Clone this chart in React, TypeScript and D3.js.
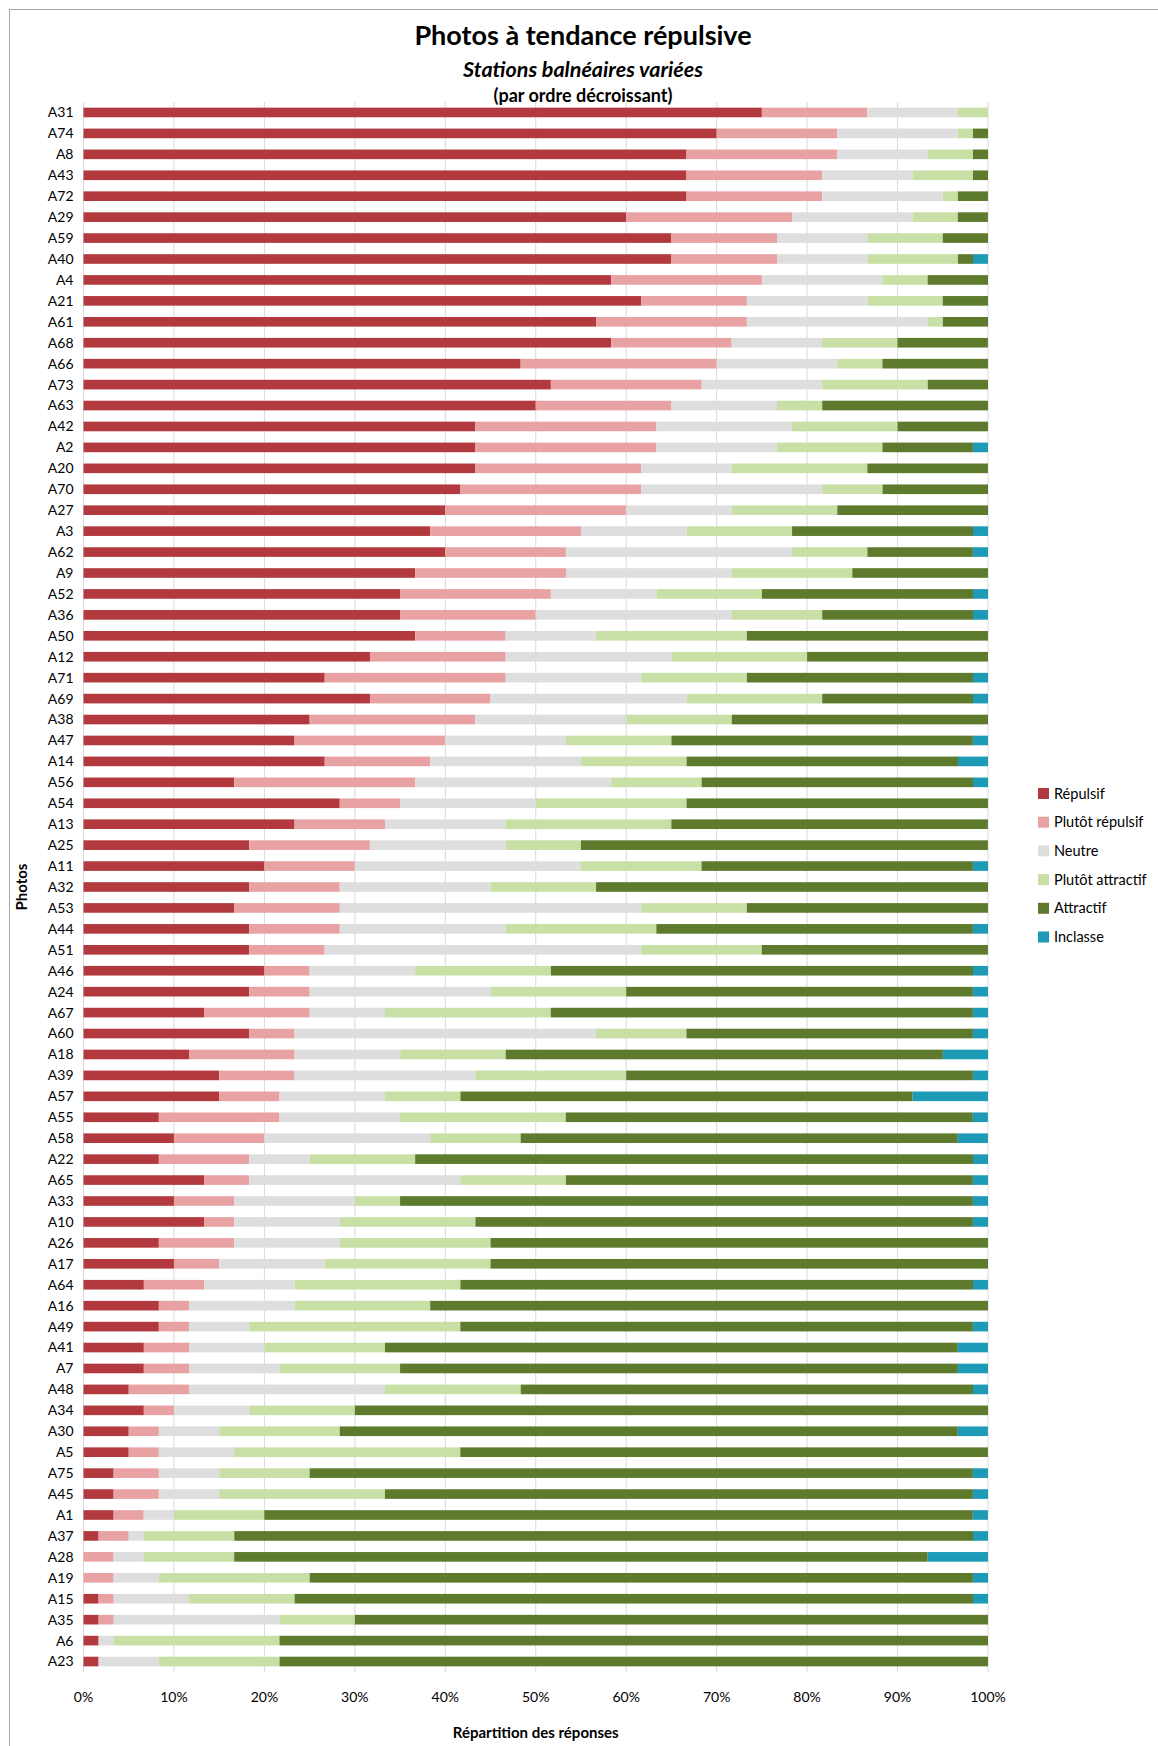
import React from 'react'
import * as d3 from 'd3'

// photo ids, top to bottom (par ordre décroissant)
const categories = [
    'A31', 'A74', 'A8', 'A43', 'A72', 'A29', 'A59', 'A40', 'A4', 'A21',
    'A61', 'A68', 'A66', 'A73', 'A63', 'A42', 'A2', 'A20', 'A70', 'A27',
    'A3', 'A62', 'A9', 'A52', 'A36', 'A50', 'A12', 'A71', 'A69', 'A38',
    'A47', 'A14', 'A56', 'A54', 'A13', 'A25', 'A11', 'A32', 'A53', 'A44',
    'A51', 'A46', 'A24', 'A67', 'A60', 'A18', 'A39', 'A57', 'A55', 'A58',
    'A22', 'A65', 'A33', 'A10', 'A26', 'A17', 'A64', 'A16', 'A49', 'A41',
    'A7', 'A48', 'A34', 'A30', 'A5', 'A75', 'A45', 'A1', 'A37', 'A28',
    'A19', 'A15', 'A35', 'A6', 'A23',
]

// shares of answers, in %
const repulsif = [
    75, 70, 66.67, 66.67, 66.67, 60, 65, 65, 58.33, 61.67,
    56.67, 58.33, 48.33, 51.67, 50, 43.33, 43.33, 43.33, 41.67, 40,
    38.33, 40, 36.67, 35, 35, 36.67, 31.67, 26.67, 31.67, 25,
    23.33, 26.67, 16.67, 28.33, 23.33, 18.33, 20, 18.33, 16.67, 18.33,
    18.33, 20, 18.33, 13.33, 18.33, 11.67, 15, 15, 8.33, 10,
    8.33, 13.33, 10, 13.33, 8.33, 10, 6.67, 8.33, 8.33, 6.67,
    6.67, 5, 6.67, 5, 5, 3.33, 3.33, 3.33, 1.67, 0,
    0, 1.67, 1.67, 1.67, 1.67,
]
const plutotRepulsif = [
    11.67, 13.33, 16.67, 15, 15, 18.33, 11.67, 11.67, 16.67, 11.67,
    16.67, 13.33, 21.67, 16.67, 15, 20, 20, 18.33, 20, 20,
    16.67, 13.33, 16.67, 16.67, 15, 10, 15, 20, 13.33, 18.33,
    16.67, 11.67, 20, 6.67, 10, 13.33, 10, 10, 11.67, 10,
    8.33, 5, 6.67, 11.67, 5, 11.67, 8.33, 6.67, 13.33, 10,
    10, 5, 6.67, 3.33, 8.33, 5, 6.67, 3.33, 3.33, 5,
    5, 6.67, 3.33, 3.33, 3.33, 5, 5, 3.33, 3.33, 3.33,
    3.33, 1.67, 1.67, 0, 0,
]
const neutre = [
    10, 13.33, 10, 10, 13.33, 13.33, 10, 10, 13.33, 13.33,
    20, 10, 13.33, 13.33, 11.67, 15, 13.33, 10, 20, 11.67,
    11.67, 25, 18.33, 11.67, 21.67, 10, 18.33, 15, 21.67, 16.67,
    13.33, 16.67, 21.67, 15, 13.33, 15, 25, 16.67, 33.33, 18.33,
    35, 11.67, 20, 8.33, 33.33, 11.67, 20, 11.67, 13.33, 18.33,
    6.67, 23.33, 13.33, 11.67, 11.67, 11.67, 10, 11.67, 6.67, 8.33,
    10, 21.67, 8.33, 6.67, 8.33, 6.67, 6.67, 3.33, 1.67, 3.33,
    5, 8.33, 18.33, 1.67, 6.67,
]
const plutotAttractif = [
    3.33, 1.67, 5, 6.67, 1.67, 5, 8.33, 10, 5, 8.33,
    1.67, 8.33, 5, 11.67, 5, 11.67, 11.67, 15, 6.67, 11.67,
    11.67, 8.33, 13.33, 11.67, 10, 16.67, 15, 11.67, 15, 11.67,
    11.67, 11.67, 10, 16.67, 18.33, 8.33, 13.33, 11.67, 11.67, 16.67,
    13.33, 15, 15, 18.33, 10, 11.67, 16.67, 8.33, 18.33, 10,
    11.67, 11.67, 5, 15, 16.67, 18.33, 18.33, 15, 23.33, 13.33,
    13.33, 15, 11.67, 13.33, 25, 10, 18.33, 10, 10, 10,
    16.67, 11.67, 8.33, 18.33, 13.33,
]
const attractif = [
    0, 1.67, 1.67, 1.67, 3.33, 3.33, 5, 1.67, 6.67, 5,
    5, 10, 11.67, 6.67, 18.33, 10, 10, 13.33, 11.67, 16.67,
    20, 11.67, 15, 23.33, 16.67, 26.67, 20, 25, 16.67, 28.33,
    33.33, 30, 30, 33.33, 35, 45, 30, 43.33, 26.67, 35,
    25, 46.67, 38.33, 46.67, 31.67, 48.33, 38.33, 50, 45, 48.33,
    61.67, 45, 63.33, 55, 55, 55, 56.67, 61.67, 56.67, 63.33,
    61.67, 50, 70, 68.33, 58.33, 73.33, 65, 78.33, 81.67, 76.67,
    73.33, 75, 70, 78.33, 78.33,
]
const inclasse = [
    0, 0, 0, 0, 0, 0, 0, 1.67, 0, 0,
    0, 0, 0, 0, 0, 0, 1.67, 0, 0, 0,
    1.67, 1.67, 0, 1.67, 1.67, 0, 0, 1.67, 1.67, 0,
    1.67, 3.33, 1.67, 0, 0, 0, 1.67, 0, 0, 1.67,
    0, 1.67, 1.67, 1.67, 1.67, 5, 1.67, 8.33, 1.67, 3.33,
    1.67, 1.67, 1.67, 1.67, 0, 0, 1.67, 0, 1.67, 3.33,
    3.33, 1.67, 0, 3.33, 0, 1.67, 1.67, 1.67, 1.67, 6.67,
    1.67, 1.67, 0, 0, 0,
]

const seriesNames = ['Répulsif', 'Plutôt répulsif', 'Neutre', 'Plutôt attractif', 'Attractif', 'Inclasse']
const seriesColors = ['#b23a3e', '#e9a2a4', '#dedede', '#c8e0a6', '#5e7a2c', '#1d9ab6']
const seriesValues = [repulsif, plutotRepulsif, neutre, plutotAttractif, attractif, inclasse]
const xTicks = [0, 10, 20, 30, 40, 50, 60, 70, 80, 90, 100]

const W = 1158
const H = 1746
const FONT = 'Lato, "Open Sans", "DejaVu Sans", sans-serif'

export default function App() {
    const margin = {top: 102, left: 83.5, right: 170, bottom: 74}
    const plotW = 988 - margin.left
    const plotH = 1672 - margin.top

    const x = d3.scaleLinear().domain([0, 100]).range([0, plotW]).clamp(true)
    const y = d3.scaleBand().domain(categories).range([0, plotH]).paddingInner(0.54).paddingOuter(0.27)

    // one row per photo, keyed by series name
    const rows = categories.map((c, i) => {
        const r: Record<string, any> = {cat: c}
        seriesNames.forEach((s, k) => { r[s] = seriesValues[k][i] })
        return r
    })
    const stacked = d3.stack<any>().keys(seriesNames)(rows)

    return (
        <svg width={W} height={H} style={{display: 'block', position: 'absolute', left: 0, top: 0, fontFamily: FONT}}>
            <rect x={0} y={0} width={W} height={H} fill="#fff"/>
            <rect x={9.5} y={9.5} width={W + 10} height={H + 10} fill="none" stroke="#a6a6a6" strokeWidth={1}/>

            <text x={583} y={45} textAnchor="middle" fontSize={27} fontWeight="bold" fill="#000">
                Photos à tendance répulsive
            </text>
            <text x={583} y={77} textAnchor="middle" fontSize={21.5} fontWeight="bold" fontStyle="italic" fill="#000">
                Stations balnéaires variées
            </text>
            <text x={583} y={102} textAnchor="middle" fontSize={18} fontWeight="bold" fill="#000">
                (par ordre décroissant)
            </text>

            <g transform={`translate(${margin.left},${margin.top})`}>
                {xTicks.map(t => (
                    <line key={t} x1={x(t)} x2={x(t)} y1={0} y2={plotH} stroke="#d9d9d9" strokeWidth={1}/>
                ))}
                {stacked.map((layer, k) => (
                    <g key={layer.key} fill={seriesColors[k]}>
                        {layer.map((d, i) => {
                            const w = x(d[1]) - x(d[0])
                            if (w <= 0) return null
                            return <rect key={i} x={x(d[0])} y={y(categories[i])!} width={w} height={y.bandwidth()}/>
                        })}
                    </g>
                ))}
                {categories.map(c => (
                    <text key={c} x={-10} y={y(c)! + y.bandwidth() / 2} dy="0.35em" textAnchor="end" fontSize={14} fill="#000">
                        {c}
                    </text>
                ))}
                {xTicks.map(t => (
                    <text key={t} x={x(t)} y={plotH + 30} textAnchor="middle" fontSize={14} fill="#000">
                        {t}%
                    </text>
                ))}
                <text x={plotW / 2} y={plotH + 66} textAnchor="middle" fontSize={15} fontWeight="bold" fill="#000">
                    Répartition des réponses
                </text>
                <text transform={`translate(${22 - margin.left},${plotH / 2}) rotate(-90)`} textAnchor="middle" dy="0.35em"
                      fontSize={15} fontWeight="bold" fill="#000">
                    Photos
                </text>
            </g>

            <g transform="translate(1038,788)">
                {seriesNames.map((s, k) => (
                    <g key={s} transform={`translate(0,${k * 28.7})`}>
                        <rect x={0} y={0} width={11} height={11} fill={seriesColors[k]}/>
                        <text x={16} y={5.5} dy="0.35em" fontSize={14.5} fill="#000">{s}</text>
                    </g>
                ))}
            </g>
        </svg>
    )
}
